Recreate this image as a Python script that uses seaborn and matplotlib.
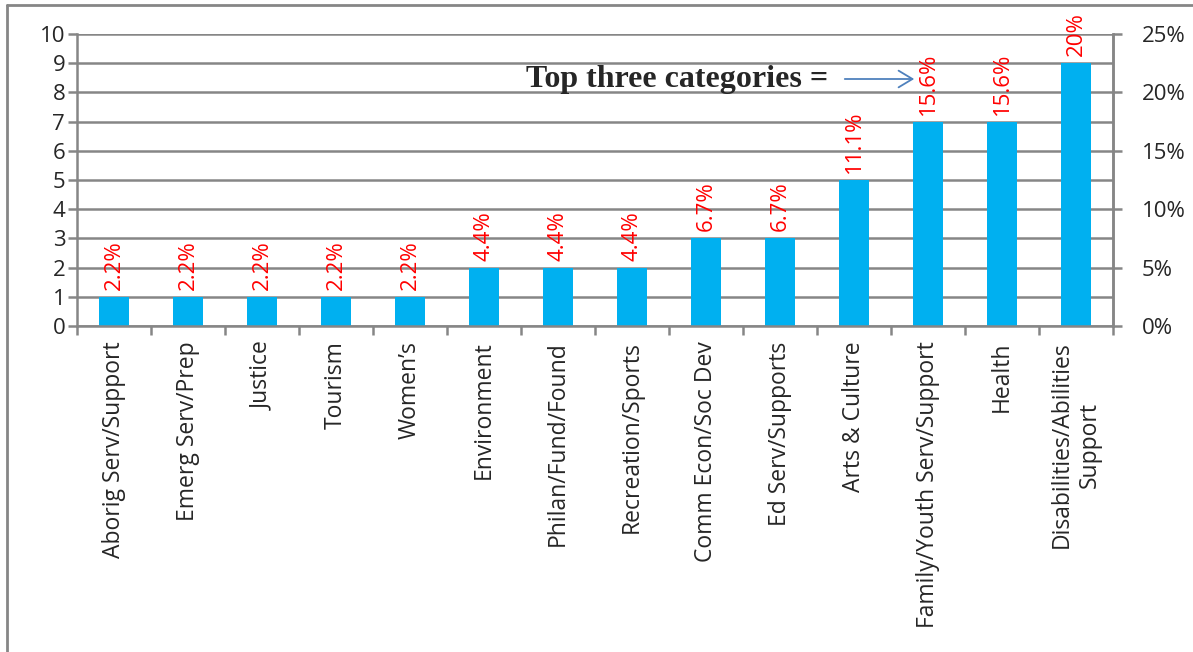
import matplotlib
matplotlib.use("Agg")
import matplotlib.pyplot as plt
from matplotlib.lines import Line2D
from matplotlib.patches import FancyArrowPatch
from matplotlib.ticker import FuncFormatter, MultipleLocator
import pandas as pd
import seaborn as sns

CATEGORIES = [
    "Aborig Serv/Support",
    "Emerg Serv/Prep",
    "Justice",
    "Tourism",
    "Women\u2019s",
    "Environment",
    "Philan/Fund/Found",
    "Recreation/Sports",
    "Comm Econ/Soc Dev",
    "Ed Serv/Supports",
    "Arts & Culture",
    "Family/Youth Serv/Support",
    "Health",
    "Disabilities/Abilities\nSupport",
]
COUNTS = [1, 1, 1, 1, 1, 2, 2, 2, 3, 3, 5, 7, 7, 9]
PCT_LABELS = ["2.2%", "2.2%", "2.2%", "2.2%", "2.2%", "4.4%", "4.4%", "4.4%",
              "6.7%", "6.7%", "11.1%", "15.6%", "15.6%", "20%"]
LEFT_TICKS = list(range(0, 11))
RIGHT_TICKS = [0, 5, 10, 15, 20, 25]

GRID = "#868686"
BAR = "#00B0F0"

sns.set_style("white")
plt.rcParams["font.family"] = ["Open Sans", "DejaVu Sans"]

W, H = 1193, 652
fig = plt.figure(figsize=(W / 100, H / 100), dpi=100)
ax = fig.add_axes([77 / W, 1 - 326 / H, (1113 - 77) / W, (326 - 34) / H])

df = pd.DataFrame({"category": CATEGORIES, "count": COUNTS})
sns.barplot(data=df, x="category", y="count", color=BAR, width=0.4,
            saturation=1, linewidth=0, ax=ax, zorder=3)

ax.set_ylim(0, 10)
ax.set_xlim(-0.5, len(CATEGORIES) - 0.5)
ax.set_yticks(LEFT_TICKS)
ax.yaxis.grid(True, color=GRID, linewidth=1.8, zorder=0)
ax.set_axisbelow(True)
ax.set_xlabel("")
ax.set_ylabel("")

for s in ["top", "bottom"]:
    ax.spines[s].set_visible(False)
for s in ["left", "right"]:
    ax.spines[s].set_color(GRID)
    ax.spines[s].set_linewidth(1.8)

ax.tick_params(axis="y", length=6.5, width=1.8, color=GRID, labelsize=16,
               pad=2, left=True)
ax.set_xticks(range(len(CATEGORIES)))
ax.set_xticklabels(CATEGORIES, rotation=90, ha="center", va="top",
                   multialignment="center", fontsize=16.5)
ax.tick_params(axis="x", which="major", length=0, pad=11)
ax.xaxis.set_minor_locator(MultipleLocator(1, offset=0.5))
ax.tick_params(axis="x", which="minor", length=6.5, width=1.8, color=GRID,
               bottom=True)

# bottom axis line at zero sits above the bars
ax.axhline(0, color=GRID, linewidth=1.8, zorder=4, clip_on=False)

for i, (c, lab) in enumerate(zip(COUNTS, PCT_LABELS)):
    ax.annotate(lab, (i, c), xytext=(0, 5), textcoords="offset points",
                rotation=90, ha="center", va="bottom", color="#FF0000",
                fontsize=16)

ax2 = ax.twinx()
ax2.set_ylim(0, 25)
ax2.set_yticks(RIGHT_TICKS)
ax2.yaxis.set_major_formatter(FuncFormatter(lambda v, p: f"{v:.0f}%"))
ax2.tick_params(axis="y", length=6.5, width=1.8, color=GRID, labelsize=16,
                pad=14, right=True)
for s in ["top", "bottom", "left"]:
    ax2.spines[s].set_visible(False)
ax2.spines["right"].set_color(GRID)
ax2.spines["right"].set_linewidth(1.8)

# callout
fig.text(828 / W, 1 - 80 / H, "Top three categories =", ha="right",
         va="center", fontsize=23, fontweight="bold",
         family=["Liberation Serif", "DejaVu Serif"])
fig.add_artist(FancyArrowPatch(
    (842 / W, 1 - 79 / H), (917 / W, 1 - 79 / H),
    transform=fig.transFigure, arrowstyle="->,head_length=10,head_width=6",
    color="#4F81BD", linewidth=1.3, mutation_scale=1))

# outer frame of the chart object
fig.add_artist(Line2D([7 / W, 7 / W], [0, 1 - 5 / H], transform=fig.transFigure,
                      color=GRID, linewidth=2))
fig.add_artist(Line2D([7 / W, 1], [1 - 5 / H, 1 - 5 / H],
                      transform=fig.transFigure, color=GRID, linewidth=2))

fig.savefig("out.png", dpi=100)
